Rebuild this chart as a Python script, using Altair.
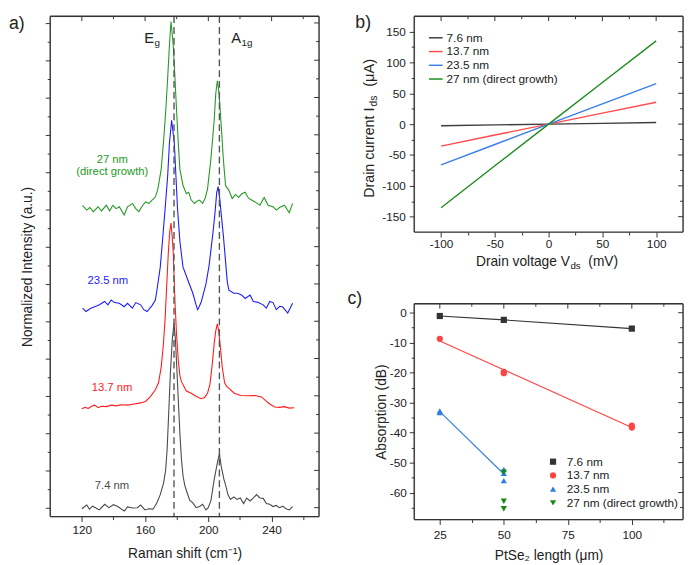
import json
import altair as alt
import pandas as pd

FONT = "Liberation Sans"
INK = "#222222"
TICK = "#333333"
EDGE = "#333333"
HYPHEN = "datum.value < 0 ? '-' + abs(datum.value) : '' + datum.value"

# ---------------- panel a : Raman spectra (shift in cm-1, offset normalized intensity) ----------------
RAMAN_7_4 = [(120.0, -0.03), (123.1, 0.07), (124.8, -0.04), (126.8, 0.04), (128.9, -0.01), (131.0, -0.06),
             (134.5, 0.09), (137.1, 0.0), (140.0, 0.08), (142.7, 0.03), (146.9, -0.09), (148.9, 0.02),
             (152.0, -0.01), (155.1, 0.0), (157.2, 0.07), (159.9, -0.06), (162.4, -0.03), (165.0, -0.04),
             (167.5, 0.13), (169.6, 0.35), (171.7, 0.66), (173.0, 1.0), (174.0, 1.6), (175.0, 2.6),
             (176.0, 3.6), (177.2, 4.5), (178.3, 4.96), (179.2, 4.5), (180.0, 3.8), (181.0, 2.9),
             (182.0, 2.0), (183.0, 1.3), (184.0, 0.85), (185.1, 0.6), (186.6, 0.4), (188.2, 0.2),
             (190.2, 0.13), (192.3, 0.0), (194.4, 0.03), (196.4, 0.09), (198.5, -0.06), (199.9, 0.0),
             (201.6, 0.18), (203.7, 0.75), (205.7, 1.2), (207.0, 1.45), (208.2, 1.1), (209.9, 0.75),
             (210.9, 0.61), (212.4, 0.35), (214.0, 0.22), (216.1, 0.29), (218.1, 0.22), (220.2, 0.26),
             (222.3, 0.11), (224.3, 0.26), (226.4, 0.18), (228.5, 0.26), (230.5, 0.35), (232.6, 0.26),
             (234.7, 0.25), (236.7, 0.11), (238.8, 0.09), (240.9, 0.03), (242.9, 0.06), (245.0, 0.0),
             (247.1, 0.04), (249.1, -0.03), (251.2, -0.06), (253.3, 0.03)]
RAMAN_13_7 = [(120.0, 2.65), (122.1, 2.69), (124.1, 2.66), (126.2, 2.72), (128.2, 2.75), (130.3, 2.68),
              (132.4, 2.72), (135.5, 2.71), (138.6, 2.75), (141.7, 2.73), (144.8, 2.76), (148.9, 2.75),
              (153.0, 2.78), (157.2, 2.81), (160.3, 2.85), (163.4, 2.98), (166.5, 3.16), (168.5, 3.35),
              (170.2, 3.77), (171.6, 4.39), (172.7, 5.09), (173.7, 5.97), (174.7, 6.84), (175.6, 7.4),
              (176.4, 7.63), (177.1, 7.3), (177.8, 6.84), (178.9, 5.53), (179.9, 4.65), (181.0, 3.95),
              (182.0, 3.55), (183.0, 3.38), (186.1, 3.13), (189.2, 3.07), (192.4, 2.98), (195.4, 2.92),
              (197.5, 2.95), (199.5, 3.07), (201.0, 3.3), (202.6, 3.9), (203.7, 4.4), (204.7, 4.74),
              (205.7, 4.93), (206.5, 4.75), (207.4, 4.4), (208.8, 3.77), (210.3, 3.35), (211.6, 3.25),
              (213.0, 3.2), (216.4, 3.07), (220.5, 3.01), (225.4, 3.0), (229.5, 3.01), (233.6, 2.97),
              (235.7, 2.89), (238.8, 2.78), (241.9, 2.7), (245.0, 2.69), (248.1, 2.71), (251.2, 2.67),
              (254.3, 2.68)]
RAMAN_23_5 = [(120.5, 5.35), (122.6, 5.26), (125.7, 5.35), (129.3, 5.41), (131.4, 5.45), (134.4, 5.53),
              (136.5, 5.44), (138.6, 5.57), (140.7, 5.5), (143.7, 5.48), (146.8, 5.39), (148.9, 5.48),
              (152.0, 5.35), (154.1, 5.5), (157.2, 5.44), (159.2, 5.31), (161.3, 5.26), (164.4, 5.42),
              (166.5, 5.57), (167.5, 5.83), (169.6, 6.45), (171.0, 7.15), (172.7, 8.03), (174.3, 8.9),
              (175.4, 9.78), (176.8, 10.39), (178.5, 9.78), (179.5, 8.9), (180.5, 8.03), (182.0, 7.15),
              (184.0, 6.45), (187.1, 6.1), (190.2, 5.75), (192.5, 5.4), (193.3, 5.31), (195.4, 5.5),
              (198.5, 6.0), (200.5, 6.5), (201.6, 6.9), (203.0, 7.4), (204.2, 7.9), (205.3, 8.45),
              (206.2, 8.61), (207.2, 8.3), (208.3, 7.8), (209.5, 7.3), (210.5, 6.8), (212.0, 6.05),
              (213.0, 5.83), (216.1, 5.75), (218.6, 5.75), (221.2, 5.7), (223.3, 5.61), (226.4, 5.7),
              (228.5, 5.53), (231.6, 5.5), (234.7, 5.44), (236.7, 5.35), (238.8, 5.53), (240.9, 5.5),
              (243.0, 5.31), (245.1, 5.4), (247.1, 5.38), (250.2, 5.22), (253.3, 5.48)]
RAMAN_27 = [(120.4, 8.11), (123.1, 7.98), (125.1, 8.05), (127.2, 7.94), (130.3, 8.07), (132.4, 7.96),
            (135.5, 8.11), (137.6, 7.96), (139.6, 8.11), (141.7, 8.02), (143.7, 8.07), (146.8, 7.85),
            (148.9, 8.07), (152.0, 8.16), (154.1, 8.02), (156.1, 7.94), (158.2, 8.09), (160.3, 8.2),
            (162.4, 8.16), (164.4, 8.25), (166.5, 8.33), (168.1, 8.55), (170.2, 9.08), (171.6, 9.78),
            (173.1, 10.66), (174.3, 11.53), (175.4, 12.41), (176.4, 13.04), (177.8, 12.41), (178.9, 11.53),
            (179.9, 10.66), (181.0, 9.78), (182.0, 9.08), (184.0, 8.64), (186.1, 8.42), (187.6, 8.46),
            (189.2, 8.25), (191.3, 8.16), (192.8, 8.22), (194.4, 8.25), (196.4, 8.16), (198.0, 8.3),
            (199.5, 8.55), (201.6, 9.34), (203.7, 10.39), (204.7, 11.1), (205.7, 11.45), (206.8, 11.1),
            (208.2, 10.22), (209.5, 9.34), (210.9, 8.64), (213.0, 8.51), (215.1, 8.29), (217.1, 8.4),
            (219.2, 8.32), (221.2, 8.42), (223.3, 8.46), (225.4, 8.3), (227.4, 8.25), (229.5, 8.2),
            (232.6, 8.11), (235.3, 8.32), (237.8, 8.11), (240.9, 8.07), (243.0, 7.98), (245.0, 8.05),
            (248.1, 8.11), (251.2, 7.91), (253.3, 8.16)]
A_NAMES = ["7.4 nm", "13.7 nm", "23.5 nm", "27 nm"]
A_COLORS = ["#4a4a4a", "#ff1c1c", "#1c1cff", "#249a24"]
PEAK_LINES = [178.3, 207.0]
A_LABEL_TEXT = ["7.4 nm", "13.7 nm", "23.5 nm", "27 nm", "(direct growth)"]
A_LABEL_SAMPLE = ["7.4 nm", "13.7 nm", "23.5 nm", "27 nm", "27 nm"]
A_LABEL_X = [139.1, 139.1, 136.5, 139.3, 139.3]
A_LABEL_Y = [0.58, 3.22, 6.08, 9.31, 9.0]
MODE_MAIN = ["E", "A"]
MODE_SUB = ["g", "1g"]
MODE_X = [159.5, 214.5]
MODE_Y = [12.45, 12.45]

# ---------------- panel b : I-V curves ----------------
V_DS = [-100, -50, 0, 50, 100]
I_7_6 = [-2.5, -1.2, 0, 1.3, 2.6]
I_13_7 = [-35.5, -17.6, 0, 17.8, 35.5]
I_23_5 = [-66.2, -33.0, 0, 33.0, 65.7]
I_27 = [-135.5, -67.5, 0, 67.5, 135.0]
B_NAMES = ["7.6 nm", "13.7 nm", "23.5 nm", "27 nm (direct growth)"]
B_COLORS = ["#3c3c3c", "#ff4a4a", "#3a7fe4", "#1d8c1d"]

# ---------------- panel c : absorption vs length ----------------
LEN_7_6 = [25, 50, 100]
ABS_7_6 = [-1.1, -2.4, -5.3]
LEN_13_7 = [25, 50, 50, 100, 100]
ABS_13_7 = [-8.7, -19.7, -20.2, -37.7, -38.3]
LEN_23_5 = [25, 25, 50, 50, 50]
ABS_23_5 = [-32.8, -33.3, -52.3, -53.6, -56.0]
LEN_27 = [50, 50, 50]
ABS_27 = [-53.2, -62.9, -65.4]
FIT_LEN_7_6 = [25, 50, 100]
FIT_7_6 = [-1.1, -2.4, -5.3]
FIT_LEN_13_7 = [25, 100]
FIT_13_7 = [-9.4, -38.3]
FIT_LEN_23_5 = [25, 50]
FIT_23_5 = [-33.0, -53.8]
C_NAMES = ["7.6 nm", "13.7 nm", "23.5 nm", "27 nm  (direct growth)"]
C_COLORS = ["#333333", "#ff4444", "#2f7de2", "#138a13"]
C_SHAPES = ["square", "circle", "triangle-up", "triangle-down"]


def axis(orient, values, size, labels=False, title=None, **kw):
    args = dict(orient=orient, values=values, tickSize=size, labels=labels, domain=False,
                grid=False, tickColor=TICK, tickWidth=1, title=title)
    args.update(kw)
    return alt.Axis(**args)


def piece(text, x, y, size, angle=0, align="left", baseline="alphabetic", color=INK):
    kw = dict(align=align, baseline=baseline, fontSize=size, color=color, font=FONT)
    if angle:
        kw["angle"] = angle
    return alt.Chart(pd.DataFrame({"t": [text]})).mark_text(**kw).encode(
        x=alt.value(x), y=alt.value(y), text="t:N")


def frame(w, h):
    one = pd.DataFrame({"f": [0]})
    rule = dict(color=EDGE, strokeWidth=1.4)
    return [
        alt.Chart(one).mark_rule(**rule).encode(x=alt.value(0), y=alt.value(0), y2=alt.value(h)),
        alt.Chart(one).mark_rule(**rule).encode(x=alt.value(w), y=alt.value(0), y2=alt.value(h)),
        alt.Chart(one).mark_rule(**rule).encode(y=alt.value(0), x=alt.value(0), x2=alt.value(w)),
        alt.Chart(one).mark_rule(**rule).encode(y=alt.value(h), x=alt.value(0), x2=alt.value(w)),
    ]


def inner_ticks(xvals_major, xvals_minor, yvals_major, yvals_minor, xs, ys, w):
    """Mirror ticks on top and right edges, pointing into the plot."""
    out = []
    for vals, size in ((xvals_major, 5), (xvals_minor, 3)):
        out.append(alt.Chart(pd.DataFrame({"t": vals})).mark_rule(color=TICK, strokeWidth=1).encode(
            x=alt.X("t:Q", scale=xs, axis=None), y=alt.value(0), y2=alt.value(size)))
    for vals, size in ((yvals_major, 5), (yvals_minor, 3)):
        out.append(alt.Chart(pd.DataFrame({"t": vals})).mark_rule(color=TICK, strokeWidth=1).encode(
            y=alt.Y("t:Q", scale=ys, axis=None), x=alt.value(w - size), x2=alt.value(w)))
    return out


def ghost(df, xf, yf, xs, ys, xax, yax):
    return alt.Chart(df).mark_point(opacity=0, size=1).encode(
        x=alt.X(xf, scale=xs, axis=xax), y=alt.Y(yf, scale=ys, axis=yax))


# ---------- build panel a ----------
frames = []
for name, pts in zip(A_NAMES, [RAMAN_7_4, RAMAN_13_7, RAMAN_23_5, RAMAN_27]):
    frames.append(pd.DataFrame({"shift": [p[0] for p in pts], "inten": [p[1] for p in pts], "sample": name}))
a_df = pd.concat(frames, ignore_index=True)
xa = alt.Scale(domain=[100, 270], nice=False, zero=False)
ya = alt.Scale(domain=[-0.24, 13.18], nice=False, zero=False)
a_color = alt.Color("sample:N", scale=alt.Scale(domain=A_NAMES, range=A_COLORS), legend=None)
AX_MAJ, AX_MIN = [120, 160, 200, 240], [140, 180, 220, 260]
AY_MAJ = list(range(0, 14))
AY_MIN = [k + 0.5 for k in range(13)]

a_lines = alt.Chart(a_df).mark_line(strokeWidth=1.1).encode(
    x=alt.X("shift:Q", scale=xa, axis=axis("bottom", AX_MAJ, 5, labels=True, title="Raman shift (cm⁻¹)",
                                           labelPadding=3, titlePadding=12)),
    y=alt.Y("inten:Q", scale=ya, axis=axis("left", AY_MAJ, 5, title="Normalized Intensity (a.u.)",
                                          titlePadding=11)),
    color=a_color,
)
a_g1 = ghost(a_df, "shift:Q", "inten:Q", xa, ya, axis("bottom", AX_MIN, 3), axis("left", AY_MIN, 3))
a_rules = alt.Chart(pd.DataFrame({"pos": PEAK_LINES})).mark_rule(
    color="#555555", strokeDash=[7, 4], strokeWidth=1.4).encode(x=alt.X("pos:Q", scale=xa, axis=None))
lab_df = pd.DataFrame({"t": A_LABEL_TEXT, "sample": A_LABEL_SAMPLE, "x": A_LABEL_X, "y": A_LABEL_Y})
a_labels = alt.Chart(lab_df).mark_text(fontSize=11.5, font=FONT, align="center", baseline="middle").encode(
    x=alt.X("x:Q", scale=xa, axis=None), y=alt.Y("y:Q", scale=ya, axis=None), text="t:N", color=a_color)
mode_df = pd.DataFrame({"m": MODE_MAIN, "s": MODE_SUB, "x": MODE_X, "y": MODE_Y})
a_mode = alt.Chart(mode_df).mark_text(fontSize=15, font=FONT, align="left", baseline="alphabetic",
                                      color=INK).encode(
    x=alt.X("x:Q", scale=xa, axis=None), y=alt.Y("y:Q", scale=ya, axis=None), text="m:N")
a_sub = alt.Chart(mode_df).mark_text(fontSize=10, font=FONT, align="left", baseline="alphabetic",
                                     color=INK, dx=10.5, dy=3).encode(
    x=alt.X("x:Q", scale=xa, axis=None), y=alt.Y("y:Q", scale=ya, axis=None), text="s:N")
a_tag = piece("a)", -42, -1, 18, baseline="top")

panel_a = alt.layer(a_lines, a_g1, a_rules, a_labels, a_mode, a_sub, a_tag,
                    *inner_ticks(AX_MAJ, AX_MIN, AY_MAJ, AY_MIN, xa, ya, 274),
                    *frame(274, 510)).resolve_axis(
    x="independent", y="independent").properties(width=274, height=510)

# ---------- build panel b ----------
b_frames = []
for name, vals in zip(B_NAMES, [I_7_6, I_13_7, I_23_5, I_27]):
    b_frames.append(pd.DataFrame({"v": V_DS, "i": vals, "sample": name}))
b_df = pd.concat(b_frames, ignore_index=True)
xb = alt.Scale(domain=[-125, 125], nice=False, zero=False)
yb = alt.Scale(domain=[-175, 175], nice=False, zero=False)
BX_MAJ, BX_MIN = [-100, -50, 0, 50, 100], [-75, -25, 25, 75]
BY_MAJ = [-150, -100, -50, 0, 50, 100, 150]
BY_MIN = [-125, -75, -25, 25, 75, 125]
b_lines = alt.Chart(b_df).mark_line(strokeWidth=1.4).encode(
    x=alt.X("v:Q", scale=xb, axis=axis("bottom", BX_MAJ, 5, labels=True, labelPadding=2, labelExpr=HYPHEN)),
    y=alt.Y("i:Q", scale=yb, axis=axis("left", BY_MAJ, 5, labels=True, labelPadding=4, labelExpr=HYPHEN)),
    color=alt.Color("sample:N", scale=alt.Scale(domain=B_NAMES, range=B_COLORS),
                    legend=alt.Legend(title=None, orient="none", legendX=14, legendY=14,
                                      symbolType="stroke", symbolSize=196, symbolStrokeWidth=1.5,
                                      labelFontSize=12, labelOffset=3, rowPadding=0, padding=0)),
)
b_g1 = ghost(b_df, "v:Q", "i:Q", xb, yb, axis("bottom", BX_MIN, 3), axis("left", BY_MIN, 3))
b_titles = [
    piece("Drain voltage V", 63, 255, 14),
    piece("ds", 159.2, 258, 10),
    piece("(mV)", 177.5, 255, 14),
    piece("Drain current I", -41, 185, 14.5, angle=270),
    piece("ds", -38, 92, 10.5, angle=270),
    piece("(μA)", -41, 72, 15, angle=270),
    piece("b)", -60, -2, 18, baseline="top"),
]
panel_b = alt.layer(b_lines, b_g1, *b_titles,
                    *inner_ticks(BX_MAJ, BX_MIN, BY_MAJ, BY_MIN, xb, yb, 274),
                    *frame(274, 220)).resolve_axis(
    x="independent", y="independent").properties(width=274, height=220)

# ---------- build panel c ----------
c_pts = pd.concat([
    pd.DataFrame({"len": LEN_7_6, "abs": ABS_7_6, "sample": C_NAMES[0]}),
    pd.DataFrame({"len": LEN_13_7, "abs": ABS_13_7, "sample": C_NAMES[1]}),
    pd.DataFrame({"len": LEN_23_5, "abs": ABS_23_5, "sample": C_NAMES[2]}),
    pd.DataFrame({"len": LEN_27, "abs": ABS_27, "sample": C_NAMES[3]}),
], ignore_index=True)
xc = alt.Scale(domain=[15, 120], nice=False, zero=False)
yc = alt.Scale(domain=[-69, 3], nice=False, zero=False)
CX_MAJ, CX_MIN = [25, 50, 75, 100], [37.5, 62.5, 87.5, 112.5]
CY_MAJ = [0, -10, -20, -30, -40, -50, -60]
CY_MIN = [-5, -15, -25, -35, -45, -55, -65]


def fit_line(lens, vals, color, ax_x=None, ax_y=None):
    return alt.Chart(pd.DataFrame({"len": lens, "abs": vals})).mark_line(strokeWidth=1.1, color=color).encode(
        x=alt.X("len:Q", scale=xc, axis=ax_x), y=alt.Y("abs:Q", scale=yc, axis=ax_y))


c_fit1 = fit_line(FIT_LEN_7_6, FIT_7_6, C_COLORS[0],
                  axis("bottom", CX_MAJ, 5, labels=True, title="PtSe₂ length (μm)",
                       labelPadding=5, titlePadding=9),
                  axis("left", CY_MAJ, 5, labels=True, title="Absorption (dB)",
                       labelPadding=3, titlePadding=1, labelExpr=HYPHEN))
c_fit2 = fit_line(FIT_LEN_13_7, FIT_13_7, C_COLORS[1])
c_fit3 = fit_line(FIT_LEN_23_5, FIT_23_5, C_COLORS[2])
SHAPE_EXPR = "{}[indexof({}, datum.value)]".format(json.dumps(C_SHAPES), json.dumps(C_NAMES)).replace('"', "'")
c_leg = alt.Legend(title=None, orient="none", legendX=135.5, legendY=155, symbolSize=40,
                   labelFontSize=12, labelOffset=8, rowPadding=2, padding=0,
                   symbolType=alt.ExprRef(expr=SHAPE_EXPR))
c_points = alt.Chart(c_pts).mark_point(filled=True, opacity=1, size=40).encode(
    x=alt.X("len:Q", scale=xc, axis=None),
    y=alt.Y("abs:Q", scale=yc, axis=None),
    color=alt.Color("sample:N", scale=alt.Scale(domain=C_NAMES, range=C_COLORS), legend=c_leg),
    shape=alt.Shape("sample:N", scale=alt.Scale(domain=C_NAMES, range=C_SHAPES), legend=None),
)
c_g1 = ghost(c_pts, "len:Q", "abs:Q", xc, yc, axis("bottom", CX_MIN, 3), axis("left", CY_MIN, 3))
c_tag = piece("c)", -68, -14, 18, baseline="top")
panel_c = alt.layer(c_fit1, c_fit2, c_fit3, c_points, c_g1, c_tag,
                    *inner_ticks(CX_MAJ, CX_MIN, CY_MAJ, CY_MIN, xc, yc, 274),
                    *frame(274, 220)).resolve_axis(
    x="independent", y="independent").properties(width=274, height=220)

right = alt.vconcat(panel_b, panel_c, spacing=73, bounds="flush").resolve_scale(
    color="independent", shape="independent")
chart = alt.hconcat(panel_a, right, spacing=26).resolve_scale(
    color="independent", shape="independent").properties(padding=0).configure_axis(
    labelFont=FONT, titleFont=FONT, labelFontSize=12, titleFontSize=14, labelColor=INK, titleColor=INK,
    titleFontWeight="normal"
).configure_legend(labelFont=FONT, labelColor=INK).configure_text(font=FONT)

chart.save("out.html", embed_options={"renderer": "svg", "actions": False})
